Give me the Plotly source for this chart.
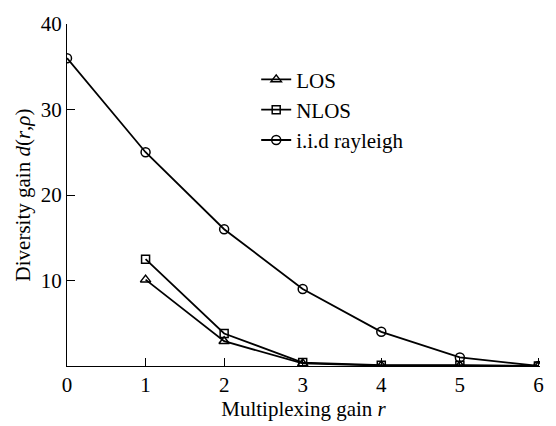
import plotly.graph_objects as go

r_vals = [0, 1, 2, 3, 4, 5, 6]
r_sub = [1, 2, 3, 4, 5, 6]
los = [10.1, 2.9, 0.3, 0.05, 0.05, 0.0]
nlos = [12.5, 3.8, 0.4, 0.1, 0.1, 0.0]
iid = [36, 25, 16, 9, 4, 1, 0]

x_ticks = [0, 1, 2, 3, 4, 5, 6]
y_ticks = [10, 20, 30, 40]

FAM = "Liberation Serif"
f21 = dict(family=FAM, size=21, color="black")
line = dict(color="black", width=1.8)

fig = go.Figure()
fig.add_trace(go.Scatter(x=r_sub, y=los, name="LOS", mode="lines+markers",
                         line=line, marker=dict(symbol="triangle-up-open", size=9,
                                                color="black", line=dict(width=1.5))))
fig.add_trace(go.Scatter(x=r_sub, y=nlos, name="NLOS", mode="lines+markers",
                         line=line, marker=dict(symbol="square-open", size=8,
                                                color="black", line=dict(width=1.5))))
fig.add_trace(go.Scatter(x=r_vals, y=iid, name="i.i.d rayleigh", mode="lines+markers",
                         line=line, marker=dict(symbol="circle-open", size=9,
                                                color="black", line=dict(width=1.5))))

fig.update_layout(
    width=556, height=426,
    margin=dict(l=67, r=12, t=13, b=58),
    paper_bgcolor="white", plot_bgcolor="white",
    font=f21,
    showlegend=True,
    legend=dict(x=0.40, y=0.897, xanchor="left", yanchor="top",
                bgcolor="rgba(0,0,0,0)", font=f21, tracegroupgap=0),
    xaxis=dict(range=[0, 6.02], tickvals=x_ticks, ticks="inside", ticklen=8,
               tickcolor="black", showline=True, linecolor="black", linewidth=1.2,
               showgrid=False, zeroline=False, tickfont=f21,
               title=dict(text="Multiplexing gain <i>r</i>", standoff=2, font=f21)),
    yaxis=dict(range=[0, 40], tickvals=y_ticks, ticks="inside", ticklen=8,
               tickcolor="black", showline=True, linecolor="black", linewidth=1.2,
               showgrid=False, zeroline=False, tickfont=f21,
               title=dict(text="Diversity gain <i>d</i>(<i>r</i>,<i>ρ</i>)", standoff=4, font=f21)),
)

fig.write_html("out.html")
